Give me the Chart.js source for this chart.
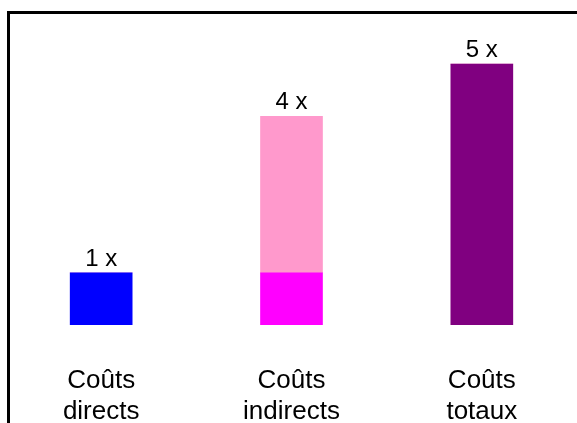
<!DOCTYPE html>
<html>
<head>
<meta charset="utf-8">
<script src="https://cdn.jsdelivr.net/npm/chart.js@4/dist/chart.umd.min.js"></script>
<style>
  html, body { margin: 0; padding: 0; background: #fff; overflow: hidden; }
  #wrap { position: relative; width: 577px; height: 423px; }
  #frame {
    position: absolute; left: 7px; top: 11px; width: 600px; height: 450px;
    border-left: 3px solid #000; border-top: 3px solid #000;
  }
  canvas { position: absolute; left: 0; top: 0; }
</style>
</head>
<body>
<div id="wrap">
  <div id="frame"></div>
  <canvas id="chart" width="577" height="423"></canvas>
</div>
<script>
// catégories (deux lignes chacune)
const categories = [['Coûts', 'directs'], ['Coûts', 'indirects'], ['Coûts', 'totaux']];
// partie basse de chaque barre
const baseValues = [1, 1, 5];
// partie haute (seulement pour les coûts indirects)
const topValues = [0, 3, 0];
// étiquettes au-dessus des barres
const valueLabels = ['1 x', '4 x', '5 x'];

const FONT = "'Liberation Sans', Arial, sans-serif";

// écrit "1 x", "4 x"... au-dessus de chaque barre
const valueLabelPlugin = {
  id: 'valueLabels',
  afterDatasetsDraw(chart) {
    const ctx = chart.ctx;
    const metaTop = chart.getDatasetMeta(1);
    const metaBase = chart.getDatasetMeta(0);
    ctx.save();
    ctx.font = '24px ' + FONT;
    ctx.fillStyle = '#000';
    ctx.textAlign = 'center';
    ctx.textBaseline = 'alphabetic';
    valueLabels.forEach((txt, i) => {
      const bar = topValues[i] > 0 ? metaTop.data[i] : metaBase.data[i];
      ctx.fillText(txt, bar.x, bar.y - 7);
    });
    ctx.restore();
  }
};

new Chart(document.getElementById('chart'), {
  type: 'bar',
  data: {
    labels: categories,
    datasets: [
      {
        data: baseValues,
        backgroundColor: ['#0000FF', '#FF00FF', '#800080'],
        barThickness: 62
      },
      {
        data: topValues,
        backgroundColor: '#FF99CC',
        barThickness: 62
      }
    ]
  },
  options: {
    responsive: false,
    animation: false,
    layout: { padding: { left: 6, right: 0, top: 12, bottom: 0 } },
    plugins: { legend: { display: false }, tooltip: { enabled: false } },
    scales: {
      x: {
        stacked: true,
        grid: { display: false },
        border: { display: false },
        afterFit(scale) { scale.height = 98; },
        ticks: {
          color: '#000',
          padding: 32,
          maxRotation: 0,
          autoSkip: false,
          font: { family: FONT, size: 26, lineHeight: 1.2 }
        }
      },
      y: {
        stacked: true,
        display: false,
        min: 0,
        max: 6
      }
    }
  },
  plugins: [valueLabelPlugin]
});
</script>
</body>
</html>
